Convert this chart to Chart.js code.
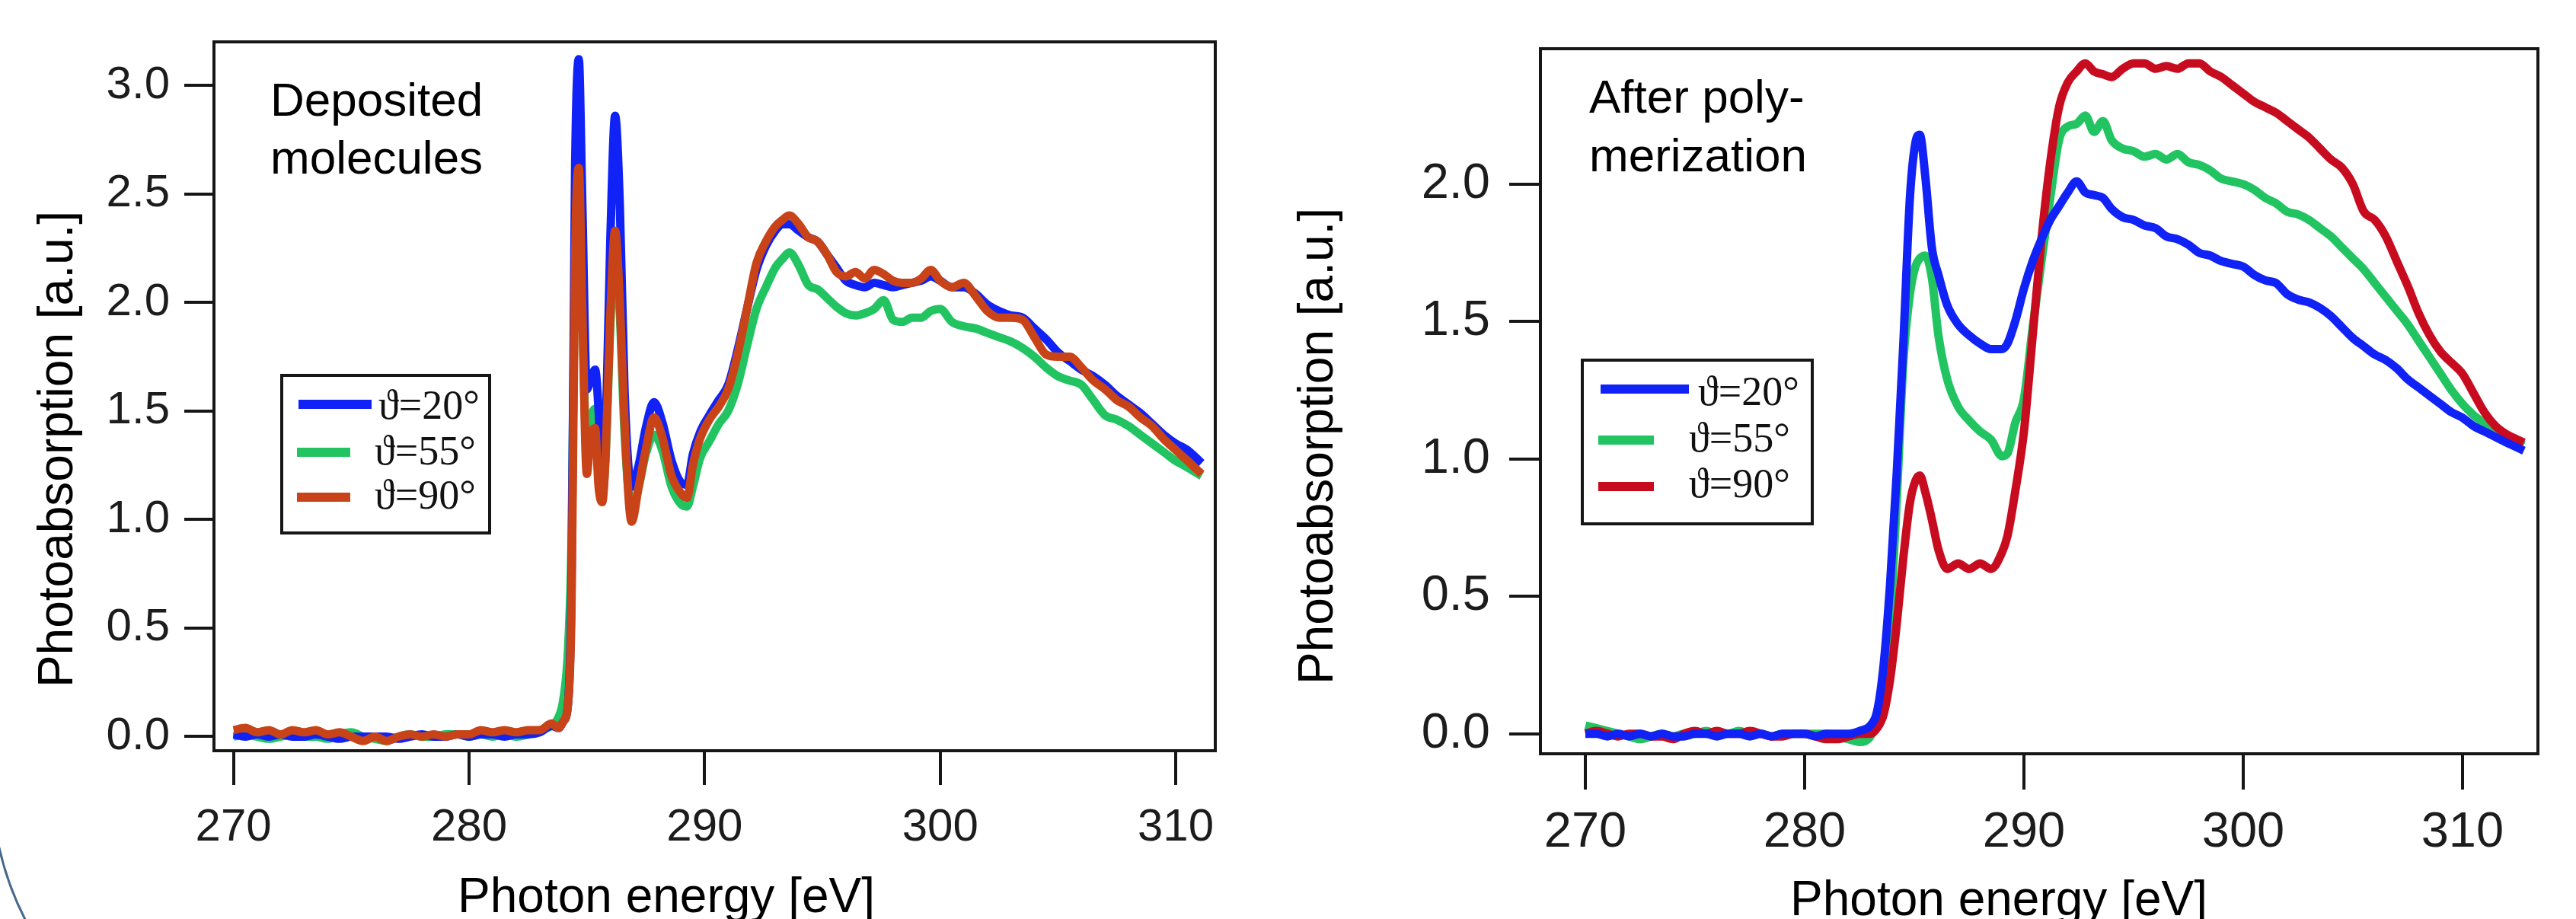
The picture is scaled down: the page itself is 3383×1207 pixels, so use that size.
<!DOCTYPE html>
<html><head><meta charset="utf-8">
<script src="https://cdn.jsdelivr.net/npm/chart.js@4.4.0/dist/chart.umd.min.js"></script>
<style>
html,body{margin:0;padding:0;background:#fff;overflow:hidden;}
#wrap{position:relative;width:3383px;height:1207px;background:#fff;}
canvas{position:absolute;top:0;}
#c1{left:0;} #c2{left:1690px;}
</style></head><body>
<div id="wrap"><canvas id="c1" width="1690" height="1207"></canvas><canvas id="c2" width="1693" height="1207"></canvas></div>
<script>
// ---------------- DATA ----------------
const seriesLabels = ['\u03D1=20\u00B0', '\u03D1=55\u00B0', '\u03D1=90\u00B0'];
const leftNote = ['Deposited', 'molecules'];
const rightNote = ['After poly-', 'merization'];
const xTitle = 'Photon energy [eV]';
const yTitle = 'Photoabsorption [a.u.]';
const leftXTicks = [270, 280, 290, 300, 310];
const leftYTicks = [0, 0.5, 1.0, 1.5, 2.0, 2.5, 3.0];
const rightXTicks = [270, 280, 290, 300, 310];
const rightYTicks = [0, 0.5, 1.0, 1.5, 2.0];

const leftEnergy = [270,270.5,271,271.5,272,272.5,273,273.5,274,274.5,275,275.5,276,276.5,277,277.5,278,278.5,279,279.5,280,280.5,281,281.5,282,282.5,283,283.5,
283.8,284.0,284.2,284.35,284.5,284.66,284.8,285.0,285.15,285.35,285.5,285.65,285.8,286.0,286.2,286.4,286.6,286.9,287.2,287.5,287.85,288.2,288.6,289.0,289.25,289.5,289.8,
290.2,290.6,291.0,291.4,291.8,292.2,292.6,293.0,293.3,293.6,294.0,294.4,294.8,295.2,295.6,296.0,296.4,296.8,297.2,297.6,298.0,298.4,298.8,299.2,299.6,
300.0,300.5,301.0,301.5,302.0,302.5,303.0,303.5,304.0,304.5,305.0,305.5,306.0,306.5,307.0,307.5,308.0,308.5,309.0,309.5,310.0,310.5,311.1];

const left20 = [0.01,0.0,0.01,0.0,0.01,0.0,0.0,0.01,0.0,-0.01,0.0,0.0,0.0,0.0,-0.01,0.0,0.01,0.0,0.0,0.01,0.0,0.01,0.01,0.0,0.01,0.01,0.02,0.05,
0.04,0.07,0.15,0.7,2.6,3.12,2.5,1.6,1.64,1.69,1.5,1.12,1.4,2.3,2.86,2.45,1.6,1.15,1.25,1.42,1.54,1.45,1.27,1.17,1.16,1.3,1.4,
1.48,1.55,1.62,1.78,1.97,2.15,2.26,2.33,2.36,2.36,2.33,2.3,2.28,2.22,2.16,2.1,2.08,2.07,2.09,2.08,2.07,2.08,2.09,2.1,2.12,
2.1,2.07,2.07,2.04,1.99,1.96,1.94,1.93,1.88,1.83,1.77,1.73,1.69,1.66,1.62,1.57,1.53,1.49,1.44,1.39,1.35,1.32,1.26];

const left55 = [0.0,0.01,0.0,-0.01,0.0,0.01,0.0,0.0,-0.01,0.01,0.02,0.0,-0.01,-0.02,0.0,0.01,0.0,0.0,0.01,0.01,0.0,0.01,0.0,0.01,0.0,0.01,0.03,0.05,
0.09,0.17,0.4,0.9,2.2,2.55,2.0,1.3,1.45,1.51,1.3,1.1,1.3,1.9,2.28,1.95,1.4,1.05,1.15,1.3,1.39,1.32,1.15,1.07,1.06,1.15,1.28,
1.36,1.44,1.5,1.62,1.8,1.97,2.07,2.16,2.2,2.23,2.17,2.08,2.06,2.02,1.98,1.95,1.94,1.95,1.97,2.01,1.92,1.91,1.93,1.93,1.96,
1.97,1.91,1.89,1.88,1.86,1.84,1.82,1.79,1.75,1.7,1.66,1.64,1.62,1.55,1.48,1.46,1.43,1.39,1.35,1.31,1.27,1.24,1.20];

const left90 = [0.03,0.04,0.02,0.03,0.01,0.03,0.02,0.03,0.01,0.02,0.0,-0.02,0.0,-0.02,0.0,0.01,0.0,0.01,0.0,0.01,0.01,0.03,0.02,0.03,0.02,0.03,0.03,0.06,
0.04,0.07,0.15,0.6,2.2,2.62,2.0,1.21,1.38,1.42,1.15,1.08,1.3,1.95,2.33,2.0,1.45,0.99,1.15,1.32,1.47,1.38,1.2,1.12,1.1,1.25,1.37,
1.46,1.52,1.6,1.76,1.97,2.18,2.28,2.35,2.38,2.40,2.36,2.3,2.28,2.22,2.14,2.12,2.14,2.11,2.15,2.13,2.1,2.09,2.09,2.11,2.15,
2.1,2.07,2.09,2.03,1.96,1.93,1.93,1.92,1.84,1.76,1.75,1.75,1.7,1.64,1.6,1.55,1.52,1.47,1.43,1.37,1.32,1.27,1.21];

const rightEnergy = [270,270.5,271,271.5,272,272.5,273,273.5,274,274.5,275,275.5,276,276.5,277,277.5,278,278.5,279,279.5,280,280.5,281,281.5,282,282.5,
283.0,283.3,283.6,283.9,284.2,284.5,284.8,285.05,285.25,285.5,285.8,286.1,286.5,287.0,287.5,288.0,288.5,289.0,289.25,289.6,
290.0,290.4,290.8,291.2,291.6,292.0,292.4,292.8,293.2,293.6,294.0,294.5,295.0,295.5,296.0,296.5,297.0,297.5,298.0,298.5,299.0,299.5,
300.0,300.5,301.0,301.5,302.0,302.5,303.0,303.5,304.0,304.5,305.0,305.5,306.0,306.5,307.0,307.5,308.0,308.5,309.0,309.5,310.0,310.5,311.0,311.5,312.0,312.8];

const right20 = [0.0,0.0,-0.01,0.0,-0.01,0.0,-0.01,0.0,-0.01,-0.01,0.0,0.0,-0.01,0.0,0.0,-0.01,0.0,-0.01,0.0,0.0,0.0,-0.01,0.0,0.0,0.0,0.01,
0.03,0.08,0.25,0.55,0.95,1.42,1.95,2.15,2.18,2.03,1.77,1.67,1.56,1.49,1.45,1.42,1.40,1.40,1.42,1.50,
1.62,1.72,1.80,1.87,1.92,1.97,2.01,1.97,1.96,1.95,1.91,1.88,1.87,1.85,1.84,1.81,1.80,1.78,1.75,1.74,1.72,1.71,
1.70,1.67,1.65,1.64,1.60,1.58,1.57,1.55,1.52,1.48,1.44,1.41,1.38,1.36,1.33,1.29,1.26,1.23,1.20,1.17,1.15,1.12,1.10,1.08,1.06,1.03];

const right55 = [0.03,0.02,0.01,0.0,-0.01,-0.02,-0.01,0.0,-0.01,0.0,0.0,0.01,0.0,0.0,0.01,0.0,0.0,-0.01,0.0,0.0,0.0,0.0,0.0,-0.01,-0.02,-0.03,
-0.01,0.06,0.2,0.42,0.85,1.35,1.60,1.70,1.73,1.74,1.66,1.45,1.29,1.19,1.14,1.10,1.07,1.01,1.02,1.13,
1.22,1.48,1.72,1.95,2.16,2.21,2.22,2.25,2.19,2.23,2.16,2.13,2.12,2.10,2.11,2.09,2.11,2.08,2.07,2.05,2.02,2.01,
2.00,1.98,1.95,1.93,1.90,1.89,1.87,1.84,1.81,1.77,1.73,1.69,1.64,1.59,1.54,1.49,1.43,1.37,1.31,1.25,1.20,1.16,1.13,1.10,1.08,1.05];

const right90 = [0.0,0.01,0.0,-0.01,0.0,0.0,-0.01,-0.01,-0.02,0.0,0.01,0.0,0.01,0.0,0.0,0.01,0.0,-0.01,-0.01,0.0,0.0,-0.01,-0.02,-0.02,-0.01,0.0,
0.0,0.02,0.07,0.2,0.4,0.64,0.84,0.92,0.94,0.88,0.78,0.67,0.60,0.62,0.60,0.62,0.60,0.66,0.72,0.88,
1.10,1.45,1.80,2.08,2.28,2.37,2.41,2.44,2.41,2.40,2.39,2.42,2.44,2.44,2.42,2.43,2.42,2.44,2.44,2.41,2.39,2.36,
2.33,2.30,2.28,2.26,2.23,2.20,2.17,2.13,2.09,2.06,2.00,1.90,1.87,1.81,1.72,1.63,1.53,1.45,1.39,1.35,1.31,1.24,1.17,1.12,1.09,1.06];

// ---------------- STYLE ----------------
const BLUE = 'rgb(16,34,245)';
const GREEN = 'rgb(34,196,98)';
const ORANGE = 'rgb(200,68,24)';
const RED = 'rgb(200,12,32)';
const INK = '#161616';

function pts(E, V) { return E.map((x, i) => ({ x: x, y: V[i] })); }

const framePlugin = {
  id: 'frame',
  afterDraw(chart, args, o) {
    const { ctx, chartArea: a } = chart;
    ctx.save();
    ctx.strokeStyle = o.color; ctx.lineWidth = o.width;
    ctx.strokeRect(a.left, a.top, a.right - a.left, a.bottom - a.top);
    ctx.restore();
  }
};

const decorPlugin = {
  id: 'decor',
  afterDraw(chart, args, o) {
    const ctx = chart.ctx;
    ctx.save();
    // annotation text
    ctx.fillStyle = '#000';
    ctx.font = o.noteFont;
    ctx.textAlign = 'left'; ctx.textBaseline = 'alphabetic';
    o.note.forEach((t, i) => ctx.fillText(t, o.noteX, o.noteY + i * o.noteLine));
    // legend
    const L = o.legend;
    ctx.fillStyle = '#fff';
    ctx.fillRect(L.x1, L.y1, L.x2 - L.x1, L.y2 - L.y1);
    ctx.strokeStyle = INK; ctx.lineWidth = 4;
    ctx.strokeRect(L.x1, L.y1, L.x2 - L.x1, L.y2 - L.y1);
    chart.data.datasets.forEach((ds, i) => {
      const e = L.entries[i];
      ctx.strokeStyle = ds.borderColor; ctx.lineWidth = 12; ctx.lineCap = 'butt';
      ctx.beginPath(); ctx.moveTo(e.lx1, e.ly); ctx.lineTo(e.lx2, e.ly); ctx.stroke();
      ctx.fillStyle = '#111'; ctx.font = L.font;
      ctx.fillText(ds.label, e.tx, e.ty);
    });
    // axis titles
    ctx.fillStyle = '#000';
    ctx.textAlign = 'center';
    ctx.font = o.xTitleFont;
    ctx.fillText(o.xTitle, o.xTitleX, o.xTitleY);
    ctx.save();
    ctx.font = o.yTitleFont;
    ctx.translate(o.yTitleX, o.yTitleY);
    ctx.rotate(-Math.PI / 2);
    ctx.fillText(o.yTitle, 0, 0);
    ctx.restore();
    // decorative slide arc at page corner
    if (o.arc) {
      ctx.strokeStyle = o.arc.color; ctx.lineWidth = o.arc.width;
      ctx.beginPath(); ctx.arc(o.arc.cx, o.arc.cy, o.arc.r, o.arc.a1, o.arc.a2, false); ctx.stroke();
    }
    ctx.restore();
  }
};

function makeChart(id, cfg) {
  const datasets = cfg.series.map((s, i) => ({
    label: seriesLabels[i],
    data: pts(cfg.energy, s.values),
    borderColor: s.color,
    backgroundColor: s.color,
    borderWidth: 11,
    pointRadius: 0,
    fill: false,
    cubicInterpolationMode: 'monotone',
    order: s.order
  }));
  return new Chart(document.getElementById(id), {
    type: 'line',
    data: { datasets },
    plugins: [framePlugin, decorPlugin],
    options: {
      responsive: false, animation: false, devicePixelRatio: 1,
      layout: { padding: cfg.padding },
      plugins: {
        legend: { display: false }, tooltip: { enabled: false },
        frame: { color: INK, width: 4 },
        decor: cfg.decor
      },
      scales: {
        x: {
          type: 'linear', min: cfg.xmin, max: cfg.xmax,
          afterBuildTicks: s => { s.ticks = cfg.xTicks.map(v => ({ value: v })); },
          afterFit: s => { s.height = cfg.xHeight; },
          border: { display: false },
          grid: { drawOnChartArea: false, drawTicks: true, tickLength: cfg.xTickLen, lineWidth: 4, color: INK },
          ticks: { autoSkip: false, maxRotation: 0, padding: cfg.xPad, color: '#1c1c1c', font: cfg.tickFont, callback: v => String(v) }
        },
        y: {
          type: 'linear', min: cfg.ymin, max: cfg.ymax,
          afterBuildTicks: s => { s.ticks = cfg.yTicks.map(v => ({ value: v })); },
          afterFit: s => { s.width = cfg.yWidth; },
          border: { display: false },
          grid: { drawOnChartArea: false, drawTicks: true, tickLength: cfg.yTickLen, lineWidth: 4, color: INK },
          ticks: { autoSkip: false, padding: cfg.yPad, color: '#1c1c1c', font: cfg.tickFont, callback: v => Number(v).toFixed(1) }
        }
      }
    }
  });
}

// Left chart: plot area 281..1596 x 37..986
makeChart('c1', {
  energy: leftEnergy,
  series: [
    { values: left20, color: BLUE, order: 1 },
    { values: left55, color: GREEN, order: 2 },
    { values: left90, color: ORANGE, order: 0 }
  ],
  xmin: 269.17, xmax: 311.68, ymin: -0.065, ymax: 3.2,
  xTicks: leftXTicks, yTicks: leftYTicks,
  padding: { left: 0, top: 37, right: 94, bottom: 0 },
  xHeight: 221, yWidth: 281,
  xTickLen: 45, yTickLen: 39, xPad: 20, yPad: 19,
  tickFont: { family: "'Liberation Sans Narrow', 'Liberation Sans', Arial, sans-serif", size: 60 },
  decor: {
    note: leftNote, noteFont: "62px 'Liberation Sans', Arial, sans-serif", noteX: 355, noteY: 152, noteLine: 76,
    legend: {
      x1: 370, y1: 493, x2: 643, y2: 700, font: "54px 'Liberation Serif', 'DejaVu Serif', serif",
      entries: [
        { lx1: 392, lx2: 488, ly: 531, tx: 497, ty: 550 },
        { lx1: 390, lx2: 460, ly: 594, tx: 492, ty: 610 },
        { lx1: 390, lx2: 460, ly: 653, tx: 492, ty: 668 }
      ]
    },
    xTitle: xTitle, xTitleFont: "64px 'Liberation Sans', Arial, sans-serif", xTitleX: 875, xTitleY: 1198,
    yTitle: yTitle, yTitleFont: "64px 'Liberation Sans', Arial, sans-serif", yTitleX: 95, yTitleY: 590,
    arc: { cx: 389, cy: 1025, r: 400, a1: 2.55, a2: 2.96, color: 'rgb(70,105,140)', width: 3 }
  }
});

// Right chart: plot area 2023..3333 x 37..990 (canvas offset 1690)
makeChart('c2', {
  energy: rightEnergy,
  series: [
    { values: right20, color: BLUE, order: 0 },
    { values: right55, color: GREEN, order: 2 },
    { values: right90, color: RED, order: 1 }
  ],
  xmin: 267.95, xmax: 313.44, ymin: -0.073, ymax: 2.493,
  xTicks: rightXTicks, yTicks: rightYTicks,
  padding: { left: 0, top: 37, right: 50, bottom: 0 },
  xHeight: 217, yWidth: 333,
  xTickLen: 47, yTickLen: 41, xPad: 18, yPad: 25,
  tickFont: { family: "'Liberation Sans', Arial, sans-serif", size: 65 },
  decor: {
    note: rightNote, noteFont: "62px 'Liberation Sans', Arial, sans-serif", noteX: 397, noteY: 148, noteLine: 77,
    legend: {
      x1: 388, y1: 473, x2: 690, y2: 688, font: "54px 'Liberation Serif', 'DejaVu Serif', serif",
      entries: [
        { lx1: 412, lx2: 528, ly: 511, tx: 540, ty: 532 },
        { lx1: 409, lx2: 482, ly: 578, tx: 528, ty: 593 },
        { lx1: 409, lx2: 482, ly: 639, tx: 528, ty: 653 }
      ]
    },
    xTitle: xTitle, xTitleFont: "64px 'Liberation Sans', Arial, sans-serif", xTitleX: 935, xTitleY: 1202,
    yTitle: yTitle, yTitleFont: "64px 'Liberation Sans', Arial, sans-serif", yTitleX: 60, yTitleY: 586
  }
});
</script>
</body></html>
